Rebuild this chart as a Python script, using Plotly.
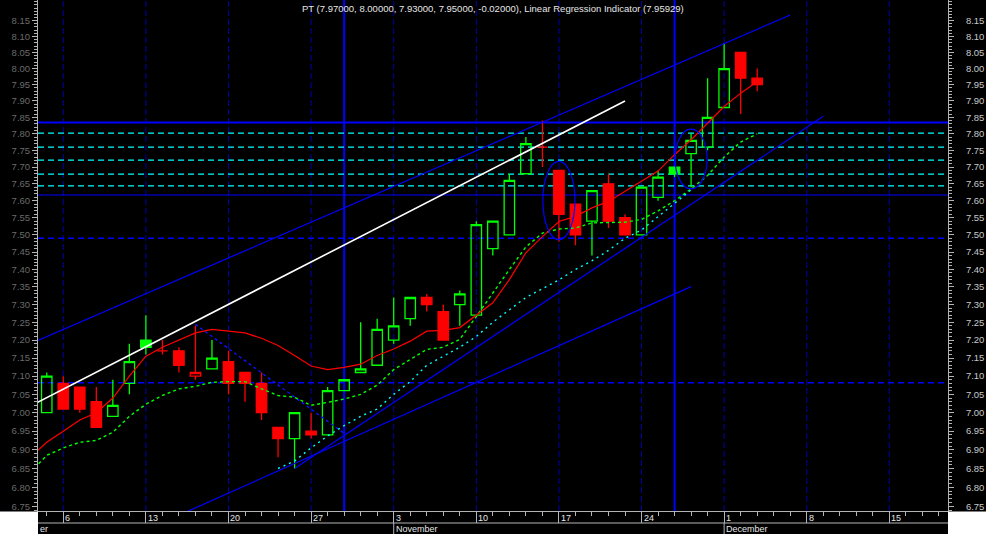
import numpy as np
import pandas as pd
import plotly.graph_objects as go

# ---------------- data ----------------
dates = ["2008-10-03", "2008-10-06", "2008-10-07", "2008-10-08", "2008-10-09", "2008-10-10",
         "2008-10-13", "2008-10-14", "2008-10-15", "2008-10-16", "2008-10-17",
         "2008-10-20", "2008-10-21", "2008-10-22", "2008-10-23", "2008-10-24",
         "2008-10-27", "2008-10-28", "2008-10-29", "2008-10-30", "2008-10-31",
         "2008-11-03", "2008-11-04", "2008-11-05", "2008-11-06", "2008-11-07",
         "2008-11-10", "2008-11-11", "2008-11-12", "2008-11-13", "2008-11-14",
         "2008-11-17", "2008-11-18", "2008-11-19", "2008-11-20", "2008-11-21",
         "2008-11-24", "2008-11-25", "2008-11-26", "2008-11-27", "2008-11-28",
         "2008-12-01", "2008-12-02", "2008-12-03"]
opens = [7.00, 7.08, 7.07, 7.03, 6.99, 7.08, 7.20, 7.17, 7.17, 7.10, 7.12,
         7.14, 7.11, 7.08, 6.96, 6.93, 6.95, 6.94, 7.06, 7.11, 7.13,
         7.20, 7.26, 7.32, 7.28, 7.30, 7.27, 7.46, 7.50, 7.68, 7.76,
         7.69, 7.59, 7.54, 7.65, 7.55, 7.50, 7.61, 7.70, 7.74, 7.76,
         7.88, 8.05, 7.97]
highs = [7.11, 7.10, 7.07, 7.07, 7.09, 7.19, 7.27, 7.20, 7.18, 7.24, 7.20,
         7.17, 7.11, 7.11, 6.96, 7.00, 7.00, 7.07, 7.09, 7.25, 7.26,
         7.32, 7.32, 7.33, 7.30, 7.34, 7.54, 7.54, 7.68, 7.79, 7.84,
         7.69, 7.59, 7.63, 7.68, 7.56, 7.64, 7.69, 7.70, 7.80, 7.97,
         8.08, 8.05, 8.00]
lows = [7.00, 7.01, 7.00, 6.96, 6.99, 7.05, 7.16, 7.16, 7.11, 7.09, 7.12,
        7.05, 7.03, 6.98, 6.88, 6.85, 6.93, 6.94, 7.06, 7.11, 7.13,
        7.19, 7.24, 7.28, 7.20, 7.24, 7.27, 7.44, 7.50, 7.68, 7.70,
        7.48, 7.47, 7.44, 7.52, 7.50, 7.50, 7.60, 7.67, 7.64, 7.75,
        7.88, 7.86, 7.93]
closes = [7.10, 7.01, 7.01, 6.96, 7.02, 7.14, 7.18, 7.17, 7.13, 7.11, 7.15,
          7.08, 7.08, 7.00, 6.93, 7.00, 6.94, 7.06, 7.09, 7.12, 7.23,
          7.24, 7.32, 7.30, 7.20, 7.33, 7.53, 7.54, 7.66, 7.77, 7.76,
          7.56, 7.50, 7.63, 7.54, 7.50, 7.64, 7.67, 7.68, 7.78, 7.85,
          8.00, 7.97, 7.95]

# indicator lines (one value per date, starting one day before the first candle)
line_dates = ["2008-10-02"] + dates
lri_values = [6.88, 6.92, 6.95, 6.98, 7.00, 7.04, 7.10, 7.155, 7.18, 7.20, 7.22, 7.23,
              7.226, 7.22, 7.205, 7.185, 7.157, 7.128, 7.118, 7.124, 7.133, 7.157,
              7.175, 7.197, 7.225, 7.227, 7.235, 7.269, 7.305, 7.371, 7.448, 7.495,
              7.539, 7.554, 7.579, 7.598, 7.628, 7.658, 7.688, 7.737, 7.782, 7.832,
              7.883, 7.924, 7.959]
ma_values = [6.84, 6.885, 6.905, 6.92, 6.925, 6.947, 6.99, 7.023, 7.047, 7.065, 7.072, 7.083,
             7.085, 7.085, 7.065, 7.047, 7.042, 7.02, 7.028, 7.037, 7.05, 7.075,
             7.118, 7.146, 7.174, 7.18, 7.202, 7.266, 7.333, 7.40, 7.465, 7.505,
             7.517, 7.52, 7.535, 7.537, 7.537, 7.545, 7.57, 7.60, 7.635, 7.675,
             7.73, 7.775, 7.80]
cyan_dates = ["2008-10-23", "2008-10-24", "2008-10-27", "2008-10-28", "2008-10-29", "2008-10-30",
              "2008-10-31", "2008-11-03", "2008-11-04", "2008-11-05", "2008-11-06", "2008-11-07",
              "2008-11-10", "2008-11-11", "2008-11-12", "2008-11-13", "2008-11-14", "2008-11-17",
              "2008-11-18", "2008-11-19", "2008-11-20", "2008-11-21", "2008-11-24", "2008-11-25",
              "2008-11-26", "2008-11-27"]
cyan_values = [6.85, 6.87, 6.905, 6.937, 6.965, 6.99, 7.01, 7.05, 7.085, 7.13, 7.155, 7.18,
               7.21, 7.25, 7.285, 7.32, 7.345, 7.37, 7.40, 7.425, 7.455, 7.49, 7.514, 7.553,
               7.595, 7.632]

# drawn trend lines (start/end date, start/end value)
channel_upper_dates = ["2008-10-01", "2008-12-05"]
channel_upper_values = [7.170, 8.168]
channel_lower_dates = ["2008-10-15", "2008-11-27"]
channel_lower_values = [6.727, 7.351]
steep_line_dates = ["2008-10-24", "2008-12-09"]
steep_line_values = [6.85, 7.853]
white_line_dates = ["2008-10-01", "2008-11-21"]
white_line_values = [6.995, 7.90]
down_line_dates = ["2008-10-16", "2008-10-29"]
down_line_values = [7.244, 6.944]

# horizontal levels
level_thick_blue = [7.834]
levels_cyan = [7.802, 7.760, 7.721, 7.679, 7.644]
level_thin_blue = [7.617]
levels_dashed_blue = [7.490, 7.082]

# vertical markers
vertical_solid_dates = ["2008-10-29", "2008-11-26"]

# ellipses (center date, low, high)
ellipse_dates = ["2008-11-17", "2008-11-27"]
ellipse_lows = [7.486, 7.635]
ellipse_highs = [7.717, 7.814]

# axis labels
week_dates = ["2008-10-06", "2008-10-13", "2008-10-20", "2008-10-27", "2008-11-03", "2008-11-10",
              "2008-11-17", "2008-11-24", "2008-12-01", "2008-12-08", "2008-12-15"]
week_labels = ["6", "13", "20", "27", "3", "10", "17", "24", "1", "8", "15"]
month_dates = ["2008-11-03", "2008-12-01"]
month_labels = ["November", "December"]
y_tick_vals = [round(6.75 + 0.05 * i, 2) for i in range(29)]
y_minor_vals = [round(6.74 + 0.01 * i, 2) for i in range(149)]

title_text = "PT (7.97000, 8.00000, 7.93000, 7.95000, -0.02000), Linear Regression Indicator (7.95929)"

# ---------------- helpers ----------------
BASE = np.datetime64("2008-10-06")


def tday(d):
    return np.busday_count(BASE, np.array(d, dtype="datetime64[D]")).astype(float)


X_RANGE = [-1.53, 53.55]
Y_RANGE = [np.log10(6.738), np.log10(8.2156)]
PLOT_H = 511.0
PLOT_W = 910.0
FONT = "Liberation Sans, Arial, sans-serif"
AXIS = "#b4b4b4"
GREEN = "#00ff00"
RED = "#ff0000"
BLUE = "#0000ff"
NAVY = "#0000a8"
CYAN = "#00ffff"

fig = go.Figure()

# ---------------- candles ----------------
xc = tday(dates)
up = np.array([True] + [closes[i] > closes[i - 1] for i in range(1, len(closes))])
o, h, l, c = map(np.array, (opens, highs, lows, closes))
for mask, col in ((up, GREEN), (~up, RED)):
    fig.add_trace(go.Candlestick(
        x=xc[mask], open=o[mask], high=h[mask], low=l[mask], close=c[mask],
        increasing=dict(line=dict(color=col, width=1.3), fillcolor="rgba(0,0,0,0)"),
        decreasing=dict(line=dict(color=col, width=1.3), fillcolor=col),
        whiskerwidth=0, hoverinfo="skip", showlegend=False))

# ---------------- trend lines ----------------
for dts, vals, col, w, dash in (
        (channel_upper_dates, channel_upper_values, BLUE, 1.2, "solid"),
        (channel_lower_dates, channel_lower_values, BLUE, 1.2, "solid"),
        (steep_line_dates, steep_line_values, BLUE, 1.2, "solid"),
        (white_line_dates, white_line_values, "#ffffff", 1.6, "solid"),
        (down_line_dates, down_line_values, "#1010ff", 1.4, "3px,3px")):
    fig.add_trace(go.Scatter(x=tday(dts), y=vals, mode="lines",
                             line=dict(color=col, width=w, dash=dash),
                             hoverinfo="skip", showlegend=False))

# ---------------- indicators ----------------
xl = tday(line_dates)
fig.add_trace(go.Scatter(x=xl, y=ma_values, mode="lines",
                         line=dict(color=GREEN, width=1.4, dash="3px,3px"),
                         hoverinfo="skip", showlegend=False))
fig.add_trace(go.Scatter(x=tday(cyan_dates), y=cyan_values, mode="lines",
                         line=dict(color=CYAN, width=1.4, dash="2px,4px"),
                         hoverinfo="skip", showlegend=False))
fig.add_trace(go.Scatter(x=xl, y=lri_values, mode="lines",
                         line=dict(color=RED, width=1.2),
                         hoverinfo="skip", showlegend=False))

# dummy trace for the left axis
fig.add_trace(go.Scatter(x=[xc[0]], y=[closes[0]], yaxis="y2", mode="markers",
                         marker=dict(opacity=0), hoverinfo="skip", showlegend=False))

shapes = []
# weekly grid
for d in week_dates:
    shapes.append(dict(type="line", xref="x", yref="paper", x0=tday(d), x1=tday(d), y0=0, y1=1,
                       line=dict(color=NAVY, width=1, dash="6px,3px"), layer="below"))
for d in vertical_solid_dates:
    shapes.append(dict(type="line", xref="x", yref="paper", x0=tday(d), x1=tday(d), y0=0, y1=1,
                       line=dict(color=BLUE, width=2), layer="below"))
for v in level_thick_blue:
    shapes.append(dict(type="line", xref="paper", yref="y", x0=0, x1=1, y0=v, y1=v,
                       line=dict(color=BLUE, width=2), layer="below"))
for v in levels_cyan:
    shapes.append(dict(type="line", xref="paper", yref="y", x0=0, x1=1, y0=v, y1=v,
                       line=dict(color=CYAN, width=1.2, dash="6px,4px"), layer="below"))
for v in level_thin_blue:
    shapes.append(dict(type="line", xref="paper", yref="y", x0=0, x1=1, y0=v, y1=v,
                       line=dict(color=BLUE, width=1.2), layer="below"))
for v in levels_dashed_blue:
    shapes.append(dict(type="line", xref="paper", yref="y", x0=0, x1=1, y0=v, y1=v,
                       line=dict(color=BLUE, width=1.5, dash="6px,4px"), layer="below"))
for d, lo, hi in zip(ellipse_dates, ellipse_lows, ellipse_highs):
    shapes.append(dict(type="circle", xref="x", yref="y", x0=tday(d) - 0.97, x1=tday(d) + 0.97,
                       y0=lo, y1=hi, line=dict(color=BLUE, width=1.2)))

# bottom band
sep = -12 / PLOT_H
bot = -23 / PLOT_H
shapes.append(dict(type="line", xref="paper", yref="paper", x0=0, x1=1, y0=sep, y1=sep,
                   line=dict(color=AXIS, width=1)))
for d in month_dates:
    shapes.append(dict(type="line", xref="x", yref="paper", x0=tday(d), x1=tday(d), y0=sep, y1=bot,
                       line=dict(color=AXIS, width=1)))
shapes.append(dict(type="rect", xref="paper", yref="paper", x0=-38 / PLOT_W, x1=0, y0=bot - 0.01, y1=-0.5 / PLOT_H,
                   fillcolor="#ffffff", line=dict(width=0)))
shapes.append(dict(type="rect", xref="paper", yref="paper", x0=1, x1=1 + 38 / PLOT_W, y0=bot - 0.01, y1=-0.5 / PLOT_H,
                   fillcolor="#ffffff", line=dict(width=0)))

annotations = [dict(text=title_text, xref="paper", yref="paper", x=0.5, y=1 - 8 / PLOT_H,
                    xanchor="center", yanchor="middle", showarrow=False,
                    font=dict(family=FONT, size=9.5, color="#e6e6e6"))]
for d, lab in zip(week_dates, week_labels):
    annotations.append(dict(text=lab, xref="x", yref="paper", x=tday(d), y=-6.5 / PLOT_H,
                            xanchor="left", yanchor="middle", xshift=0, showarrow=False,
                            font=dict(family=FONT, size=9, color="#e6e6e6")))
for d, lab in zip(month_dates, month_labels):
    annotations.append(dict(text=lab, xref="x", yref="paper", x=tday(d), y=-17.5 / PLOT_H,
                            xanchor="left", yanchor="middle", xshift=0, showarrow=False,
                            font=dict(family=FONT, size=9, color="#e6e6e6")))
annotations.append(dict(text="er", xref="paper", yref="paper", x=0, y=-17.5 / PLOT_H,
                        xanchor="left", yanchor="middle", showarrow=False,
                        font=dict(family=FONT, size=9, color="#e6e6e6")))

all_days = tday(pd.bdate_range("2008-09-29", "2008-12-26").strftime("%Y-%m-%d").tolist())

yaxis_common = dict(type="log", range=Y_RANGE, showgrid=False, zeroline=False,
                    showline=True, linecolor=AXIS, linewidth=1,
                    ticks="outside", ticklen=5, tickcolor=AXIS,
                    tickvals=y_tick_vals, ticktext=[f"{v:.2f}" for v in y_tick_vals],
                    minor=dict(tickvals=y_minor_vals, ticklen=3, tickcolor=AXIS,
                               ticks="outside", showgrid=False),
                    automargin=False, fixedrange=True)

fig.update_layout(
    width=986, height=534,
    margin=dict(l=38, r=38, t=0, b=23, pad=0, autoexpand=False),
    paper_bgcolor="#000000", plot_bgcolor="#000000",
    showlegend=False, hovermode=False, dragmode=False,
    boxgap=0.1, boxmode="overlay",
    xaxis=dict(range=X_RANGE, showgrid=False, zeroline=False, showline=True,
               linecolor=AXIS, linewidth=1, ticks="outside", ticklen=11, tickcolor=AXIS,
               tickvals=tday(week_dates), showticklabels=False,
               minor=dict(tickvals=all_days, ticklen=4, ticks="outside", tickcolor=AXIS,
                          showgrid=False),
               rangeslider=dict(visible=False), automargin=False, fixedrange=True),
    yaxis=dict(side="right", ticklabelstandoff=10,
               tickfont=dict(family=FONT, size=9.5, color="#c8c8c8"), **yaxis_common),
    yaxis2=dict(side="left", overlaying="y",
                tickfont=dict(family=FONT, size=9.5, color="#6a6a6a"), **yaxis_common),
    shapes=shapes,
    annotations=annotations,
)

fig.write_html("out.html", config={"displayModeBar": False},
               post_script="document.body.style.margin='0';document.body.style.overflow='hidden';")
